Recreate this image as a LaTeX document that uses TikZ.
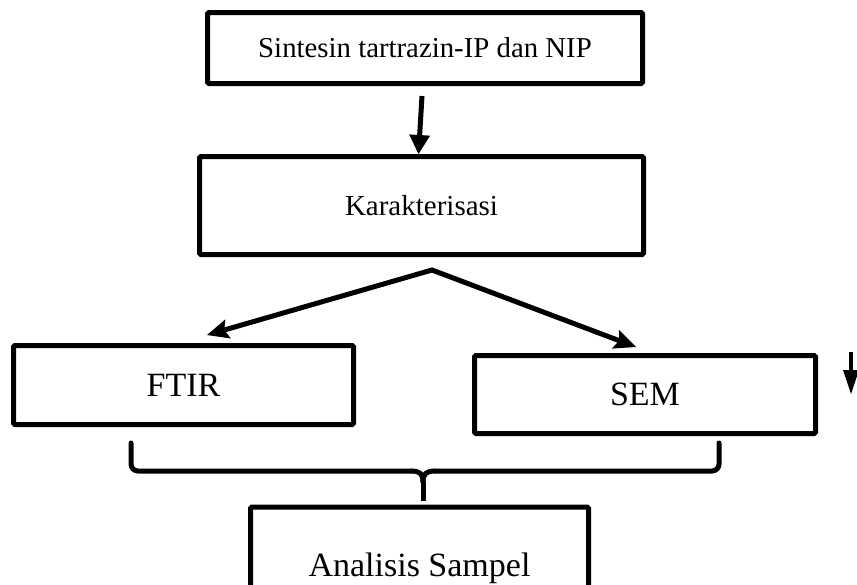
\documentclass[tikz,border=0pt]{standalone}
\usepackage{fontspec}
\setmainfont{Liberation Serif}
\usetikzlibrary{arrows.meta}
\begin{document}
\begin{tikzpicture}[x=1pt,y=-1pt,
  box/.style={draw=black,line width=5pt,rounded corners=1.5pt,inner sep=0pt,anchor=center,align=center},
  smalltxt/.style={font=\fontsize{28.8}{32}\selectfont},
  midtxt/.style={font=\fontsize{29}{32}\selectfont},
  bigtxt/.style={font=\fontsize{34}{38}\selectfont},
  conn/.style={draw=black,line width=5pt},
  downarr/.style={conn,-{Triangle[length=19pt,width=21pt,line width=0pt]}},
  splitarr/.style={conn,line join=miter,{Stealth[length=22pt,width=20pt,inset=4pt,line width=0pt]}-{Stealth[length=22pt,width=20pt,inset=4pt,line width=0pt]}},
  strayarr/.style={draw=black,line width=4pt,-{Triangle[length=24pt,width=16pt,line width=0pt]}},
  bracepath/.style={conn,line cap=round,rounded corners=7pt}
]
\useasboundingbox (0,0) rectangle (857,584);
\clip (0,0) rectangle (857,584);

% boxes
\node[box,smalltxt,minimum width=435pt,minimum height=71pt] (b1) at (425,48) {Sintesin tartrazin-IP dan NIP};
\node[box,midtxt,minimum width=444pt,minimum height=98pt] (b2) at (421.5,205.5) {Karakterisasi};
\node[box,bigtxt,minimum width=340pt,minimum height=79pt] (ftir) at (183.5,385) {FTIR};
\node[box,bigtxt,minimum width=341pt,minimum height=78pt] (sem) at (645,394.5) {SEM};
\node[box,bigtxt,minimum width=338pt,minimum height=122pt] (an) at (419.5,568) {Analisis Sampel};

% arrow 1
\draw[downarr] ([shift={(-3,10)}]b1.south) -- ([xshift=-3pt]b2.north);

% split arrows
\coordinate (apex) at (432,270);
\coordinate (tipL) at (207,335);
\coordinate (tipR) at (636,347);
\draw[splitarr] (tipL) -- (apex) -- (tipR);

% stray arrow
\coordinate (s1) at (851,352);
\coordinate (s2) at (851,394);
\draw[strayarr] (s1) -- (s2);

% brace
\coordinate (brL) at (131,443);
\coordinate (brR) at (719,443);
\coordinate (brM) at (423,482);
\draw[bracepath] (brL) -- (131,471) -- (411,471);
\draw[bracepath] (brR) -- (719,471) -- (435,471);
\draw[conn,line cap=round] (411,471) .. controls (420,471) and (423,474) .. (brM);
\draw[conn,line cap=round] (435,471) .. controls (426,471) and (423,474) .. (brM);
\draw[conn] (brM) -- ([shift={(3.5,-4)}]an.north);
\end{tikzpicture}
\end{document}
